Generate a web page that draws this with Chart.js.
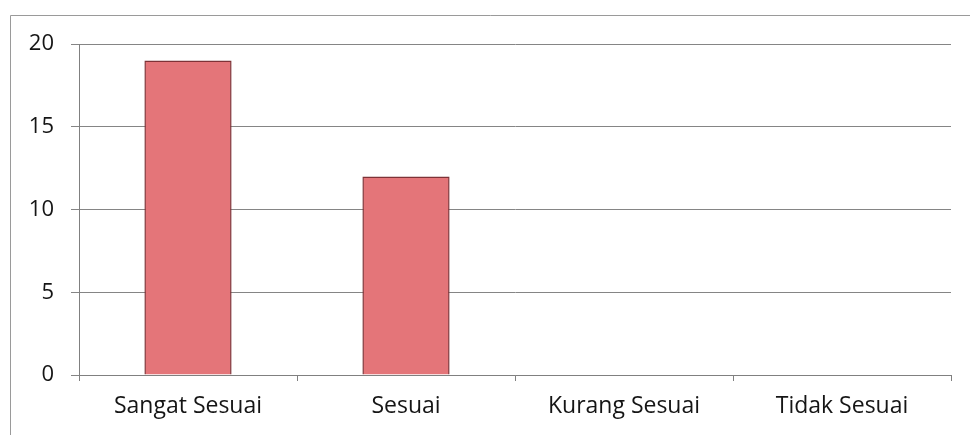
<!DOCTYPE html>
<html>
<head>
<meta charset="utf-8">
<script src="https://cdn.jsdelivr.net/npm/chart.js@4"></script>
<style>
  html, body { margin: 0; padding: 0; background: #fff; }
  #wrap { width: 970px; height: 435px; }
</style>
</head>
<body>
<div id="wrap"><canvas id="myChart" width="970" height="435"></canvas></div>
<script>
const categories = ['Sangat Sesuai', 'Sesuai', 'Kurang Sesuai', 'Tidak Sesuai'];
const values = [19, 12, 0, 0];
const yTicks = [0, 5, 10, 15, 20];

// thin frame round the whole chart, like the scanned picture
const frame = {
  id: 'frame',
  beforeDraw(chart) {
    const ctx = chart.ctx;
    ctx.save();
    ctx.strokeStyle = '#9a9a9a';
    ctx.lineWidth = 1;
    ctx.beginPath();
    ctx.moveTo(10.5, 435);
    ctx.lineTo(10.5, 15.5);
    ctx.lineTo(970, 15.5);
    ctx.stroke();
    ctx.restore();
  }
};

const dataChart = {
  labels: categories,
  datasets: [{
    data: values,
    backgroundColor: '#e47579',
    borderColor: '#7e3236',
    borderWidth: 1.5,
    borderSkipped: 'start',
    categoryPercentage: 0.4,
    barPercentage: 1
  }]
};

const config = {
  type: 'bar',
  data: dataChart,
  plugins: [frame],
  options: {
    responsive: false,
    animation: false,
    layout: { padding: { top: 44, right: 19, left: 0, bottom: 0 } },
    plugins: {
      legend: { display: false },
      tooltip: { enabled: false }
    },
    scales: {
      x: {
        afterFit(scale) { scale.height = 60; },
        grid: {
          drawOnChartArea: false,
          color: '#808080',
          tickLength: 6
        },
        border: { color: '#808080' },
        ticks: {
          color: '#151515',
          font: { family: 'Open Sans', size: 23 },
          padding: 12
        }
      },
      y: {
        min: 0,
        max: 20,
        afterFit(scale) { scale.width = 79; },
        afterBuildTicks(scale) { scale.ticks = yTicks.map(v => ({ value: v })); },
        grid: {
          color: '#858585',
          tickLength: 8
        },
        border: { color: '#808080' },
        ticks: {
          color: '#151515',
          font: { family: 'Open Sans', size: 22 },
          padding: 17
        }
      }
    }
  }
};

const myChart = new Chart(document.getElementById('myChart'), config);
</script>
</body>
</html>
